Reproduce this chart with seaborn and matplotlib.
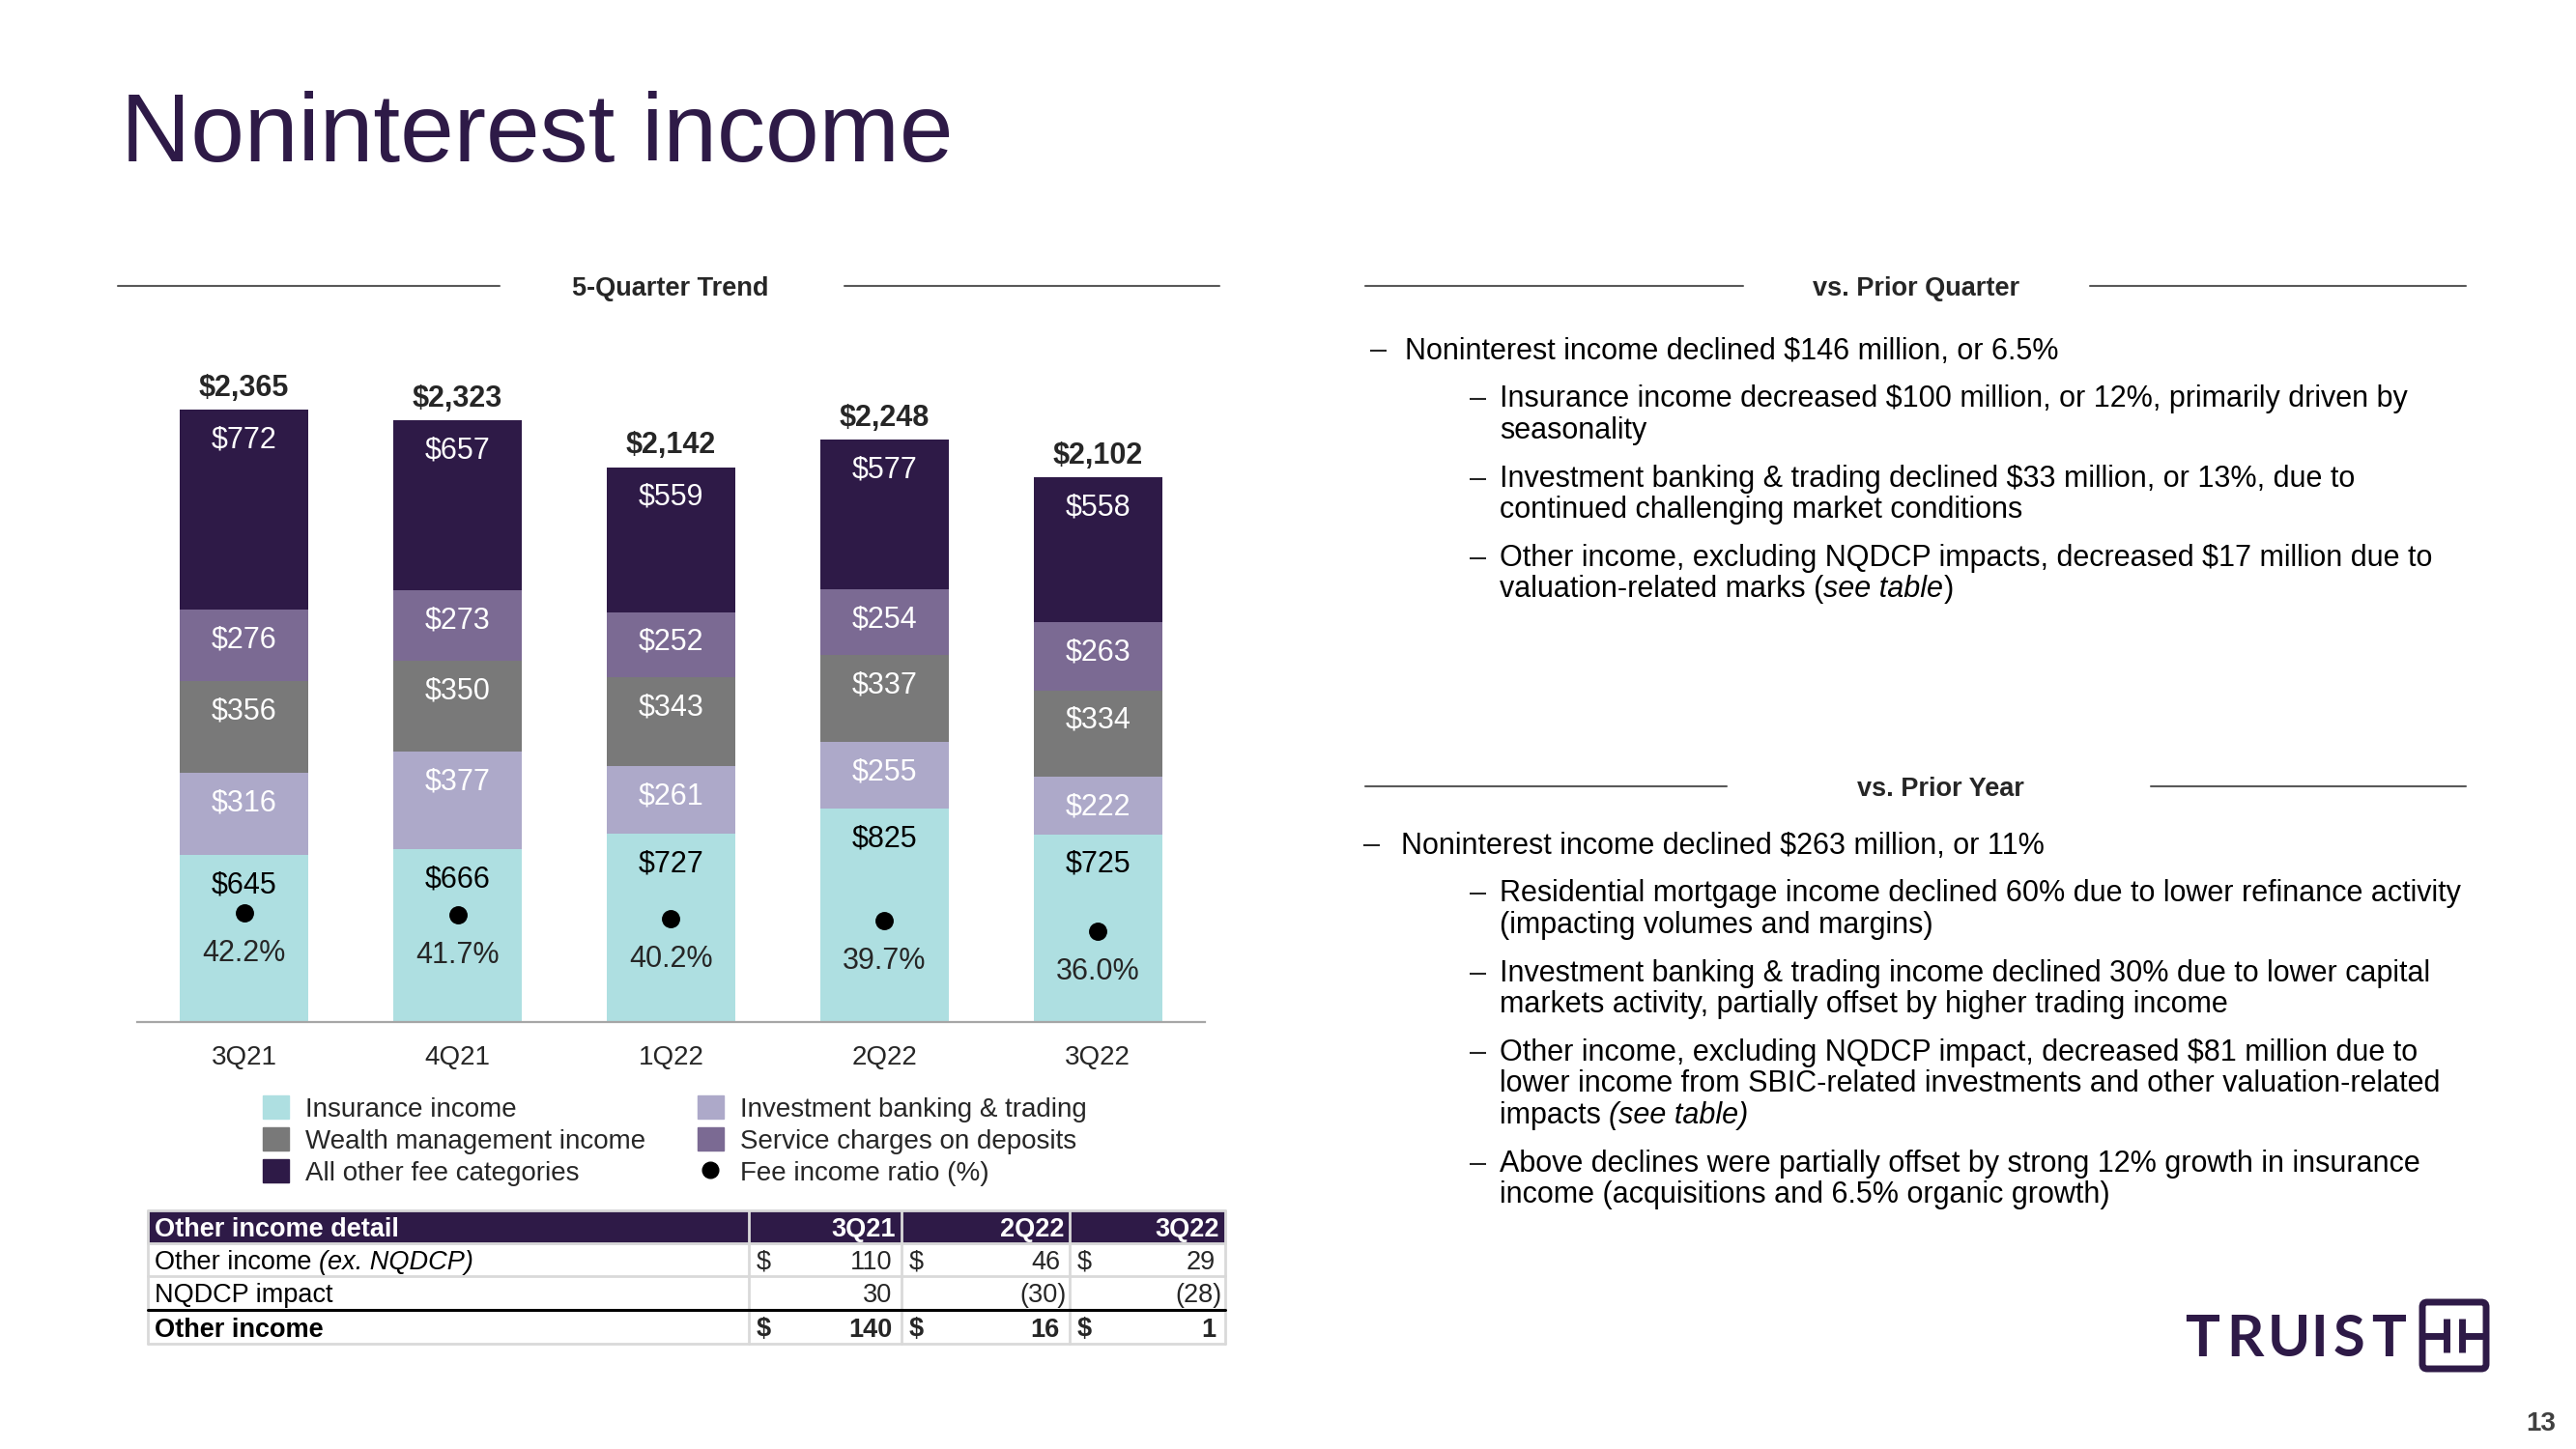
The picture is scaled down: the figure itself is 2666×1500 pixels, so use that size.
import numpy as np
import pandas as pd
import seaborn as sns
import matplotlib.pyplot as plt
from matplotlib.patches import Patch, Rectangle, FancyBboxPatch
from matplotlib.lines import Line2D

# Chart data (5-quarter trend, $ millions)
quarters = ["3Q21", "4Q21", "1Q22", "2Q22", "3Q22"]
insurance = [645, 666, 727, 825, 725]
inv_banking = [316, 377, 261, 255, 222]
wealth = [356, 350, 343, 337, 334]
service_charges = [276, 273, 252, 254, 263]
other_fees = [772, 657, 559, 577, 558]
fee_ratio = [42.2, 41.7, 40.2, 39.7, 36.0]

# Other income detail table
table_cols = ["3Q21", "2Q22", "3Q22"]
other_ex_nqdcp = [110, 46, 29]
nqdcp_impact = [30, -30, -28]
other_income = [140, 16, 1]

series_names = ["Insurance income", "Investment banking & trading",
                "Wealth management income", "Service charges on deposits",
                "All other fee categories"]
series_colors = ["#AEDFE1", "#ADA9C9", "#797979", "#7B6A93", "#2E1A47"]
label_colors = ["black", "white", "white", "white", "white"]
dark = "#2E1A47"

df = pd.DataFrame({"quarter": quarters,
                   series_names[0]: insurance,
                   series_names[1]: inv_banking,
                   series_names[2]: wealth,
                   series_names[3]: service_charges,
                   series_names[4]: other_fees})
cum = df[series_names].cumsum(axis=1)
totals = cum[series_names[-1]]

sns.set_style("white")
plt.rcParams["font.family"] = ["Liberation Sans", "DejaVu Sans"]
plt.rcParams["text.parse_math"] = False

fig = plt.figure(figsize=(26.66, 15), dpi=100)
ax = fig.add_axes([0.05334, 0.29467, 0.41429, 0.46475])

# Stacked bars: draw cumulative heights from the top layer down
for name, color in zip(series_names[::-1], series_colors[::-1]):
    sns.barplot(x=df["quarter"], y=cum[name], color=color, saturation=1,
                width=0.6, errorbar=None, linewidth=0, ax=ax)

# Segment labels near the top of each segment
for name, lab_color in zip(series_names, label_colors):
    for i in range(len(quarters)):
        ax.annotate(f"${df[name][i]}", (i, cum[name][i]), xytext=(0, -20),
                    textcoords="offset points", ha="center",
                    va="center_baseline", fontsize=22, color=lab_color)

# Totals above bars
for i, tot in enumerate(totals):
    ax.annotate(f"${tot:,}", (i, tot), xytext=(0, 18.5), textcoords="offset points",
                ha="center", va="center_baseline", fontsize=22, weight="bold")

ax.set_ylim(0, 2600)
ax.set_xlim(-0.5, 4.5)
ax.set_xlabel("")
ax.set_ylabel("")
ax.set_yticks([])
ax.set_xticks(range(len(quarters)))
ax.set_xticklabels(quarters, fontsize=20)
ax.tick_params(axis="x", length=0, pad=17.5)
sns.despine(ax=ax, left=True)
ax.spines["bottom"].set_color("#A6A6A6")
ax.spines["bottom"].set_linewidth(1.6)

# Fee income ratio dots on a hidden secondary axis
ax2 = ax.twinx()
sns.scatterplot(x=np.arange(len(quarters)), y=fee_ratio, color="black", s=185,
                linewidth=0, legend=False, ax=ax2, zorder=5)
for i, r in enumerate(fee_ratio):
    ax2.annotate(f"{r:.1f}%", (i, r), xytext=(0, -27.5), textcoords="offset points",
                 ha="center", va="center_baseline", fontsize=22)
ax2.set_ylim(4.8, 236.4)
ax2.set_xlim(-0.5, 4.5)
ax2.axis("off")

# Legend
handles = [Patch(color=series_colors[0]), Patch(color=series_colors[2]),
           Patch(color=series_colors[4]), Patch(color=series_colors[1]),
           Patch(color=series_colors[3]),
           Line2D([], [], marker="o", color="black", linestyle="none", markersize=12)]
labels = [series_names[0], series_names[2], series_names[4], series_names[1],
          series_names[3], "Fee income ratio (%)"]
ax.legend(handles, labels, ncol=2, loc="upper left",
          bbox_to_anchor=(272 / 2666, 1 - 1134 / 1500), bbox_transform=fig.transFigure,
          frameon=False, fontsize=20, handlelength=0.97, handleheight=0.97,
          handletextpad=0.61, columnspacing=1.94, labelspacing=0.19,
          borderpad=0, borderaxespad=0)

# Overlay in pixel coordinates for page text, table and logo
ov = fig.add_axes([0, 0, 1, 1])
ov.set_xlim(0, 2666)
ov.set_ylim(1500, 0)
ov.axis("off")
renderer = fig.canvas.get_renderer()


def advance(txt, size, style="normal", weight="normal"):
    a = ov.text(0, 0, txt + "|", fontsize=size, style=style, weight=weight)
    b = ov.text(0, 0, "|", fontsize=size, style=style, weight=weight)
    w = a.get_window_extent(renderer).width - b.get_window_extent(renderer).width
    a.remove()
    b.remove()
    return w


def write(x, y, parts, size, color="black", weight="normal"):
    for txt, style in parts:
        ov.text(x, y, txt, fontsize=size, style=style, weight=weight, color=color,
                ha="left", va="center_baseline")
        x += advance(txt, size, style, weight)


# Title
ov.text(125, 167, "Noninterest income", fontsize=72, color=dark, va="baseline")

# Section headers with rules
def header(text, cx, y, left_rule, right_rule):
    ov.text(cx, y, text, fontsize=19.5, weight="bold", ha="center", va="center_baseline")
    ov.plot(left_rule, [y, y], color="#595959", lw=1.5)
    ov.plot(right_rule, [y, y], color="#595959", lw=1.5)


header("5-Quarter Trend", 694, 296, [122, 517], [874, 1262])
header("vs. Prior Quarter", 1983, 296, [1413, 1804], [2163, 2552])
header("vs. Prior Year", 2008, 814, [1413, 1787], [2226, 2552])

# Commentary bullets
pq_bullets = [
    (0, [[("Noninterest income declined $146 million, or 6.5%", "normal")]]),
    (1, [[("Insurance income decreased $100 million, or 12%, primarily driven by", "normal")],
         [("seasonality", "normal")]]),
    (1, [[("Investment banking & trading declined $33 million, or 13%, due to", "normal")],
         [("continued challenging market conditions", "normal")]]),
    (1, [[("Other income, excluding NQDCP impacts, decreased $17 million due to", "normal")],
         [("valuation-related marks (", "normal"), ("see table", "italic"), (")", "normal")]]),
]
py_bullets = [
    (0, [[("Noninterest income declined $263 million, or 11%", "normal")]]),
    (1, [[("Residential mortgage income declined 60% due to lower refinance activity", "normal")],
         [("(impacting volumes and margins)", "normal")]]),
    (1, [[("Investment banking & trading income declined 30% due to lower capital", "normal")],
         [("markets activity, partially offset by higher trading income", "normal")]]),
    (1, [[("Other income, excluding NQDCP impact, decreased $81 million due to", "normal")],
         [("lower income from SBIC-related investments and other valuation-related", "normal")],
         [("impacts ", "normal"), ("(see table)", "italic")]]),
    (1, [[("Above declines were partially offset by strong 12% growth in insurance", "normal")],
         [("income (acquisitions and 6.5% organic growth)", "normal")]]),
]


def bullets(items, y, main_x):
    for level, lines in items:
        dash_x, text_x = main_x if level == 0 else (1521, 1552)
        ov.text(dash_x, y, "\u2013", fontsize=22, va="center_baseline")
        for k, line in enumerate(lines):
            write(text_x, y, line, 22)
            y += 32.3 if k < len(lines) - 1 else 50


bullets(pq_bullets, 360, (1418, 1454))
bullets(py_bullets, 872, (1411, 1450))

# Other income detail table
col_x = [153, 775, 933, 1107, 1268]
row_y = [1253, 1287, 1321, 1356, 1391]
grid = "#D9D9D9"
ov.add_patch(Rectangle((col_x[0], row_y[0]), col_x[-1] - col_x[0], row_y[1] - row_y[0],
                       color=dark, zorder=1))
for x in col_x:
    ov.plot([x, x], [row_y[0], row_y[-1]], color=grid, lw=2, zorder=2)
for y in row_y:
    ov.plot([col_x[0], col_x[-1]], [y, y], color=grid, lw=2, zorder=2)
ov.plot([col_x[0], col_x[-1]], [row_y[3], row_y[3]], color="black", lw=2.2, zorder=3)

mid = [(row_y[i] + row_y[i + 1]) / 2 for i in range(4)]
ts = 19.5
write(160, mid[0], [("Other income detail", "normal")], ts, color="white", weight="bold")
for j, c in enumerate(table_cols):
    ov.text(col_x[j + 2] - 6, mid[0], c, fontsize=ts, weight="bold", color="white",
            ha="right", va="center_baseline")
write(160, mid[1], [("Other income ", "normal"), ("(ex. NQDCP)", "italic")], ts)
write(160, mid[2], [("NQDCP impact", "normal")], ts)
write(160, mid[3], [("Other income", "normal")], ts, weight="bold")

table_rows = [(other_ex_nqdcp, True, "normal"), (nqdcp_impact, False, "normal"),
              (other_income, True, "bold")]
for r, (vals, dollar, wt) in enumerate(table_rows):
    for j, v in enumerate(vals):
        left, right = col_x[j + 1], col_x[j + 2]
        if dollar:
            ov.text(left + 8, mid[r + 1], "$", fontsize=ts, weight=wt,
                    ha="left", va="center_baseline")
        txt = f"({abs(v)})" if v < 0 else f"{v}"
        ov.text(right - (3 if v < 0 else 10), mid[r + 1], txt, fontsize=ts, weight=wt,
                ha="right", va="center_baseline")

# Truist logo
for letter, cx in zip("TRUIST", [2279, 2323, 2369, 2400, 2431, 2472]):
    ov.text(cx, 1382, letter, fontsize=43, weight="bold", color=dark,
            family=["Lato", "DejaVu Sans"], ha="center", va="center_baseline")
ov.add_patch(FancyBboxPatch((2507, 1348), 66, 69, boxstyle="round,pad=0,rounding_size=5",
                            fill=False, edgecolor=dark, lw=5))
ov.plot([2507, 2532], [1383, 1383], color=dark, lw=5, solid_capstyle="butt")
ov.plot([2548, 2573], [1383, 1383], color=dark, lw=5, solid_capstyle="butt")
ov.plot([2532, 2532], [1365, 1400], color=dark, lw=5, solid_capstyle="butt")
ov.plot([2548, 2548], [1365, 1400], color=dark, lw=5, solid_capstyle="butt")

# Page number
ov.text(2630, 1471, "13", fontsize=20, weight="bold", color="#404040",
        ha="center", va="center_baseline")

fig.savefig("out.png", dpi=100)
